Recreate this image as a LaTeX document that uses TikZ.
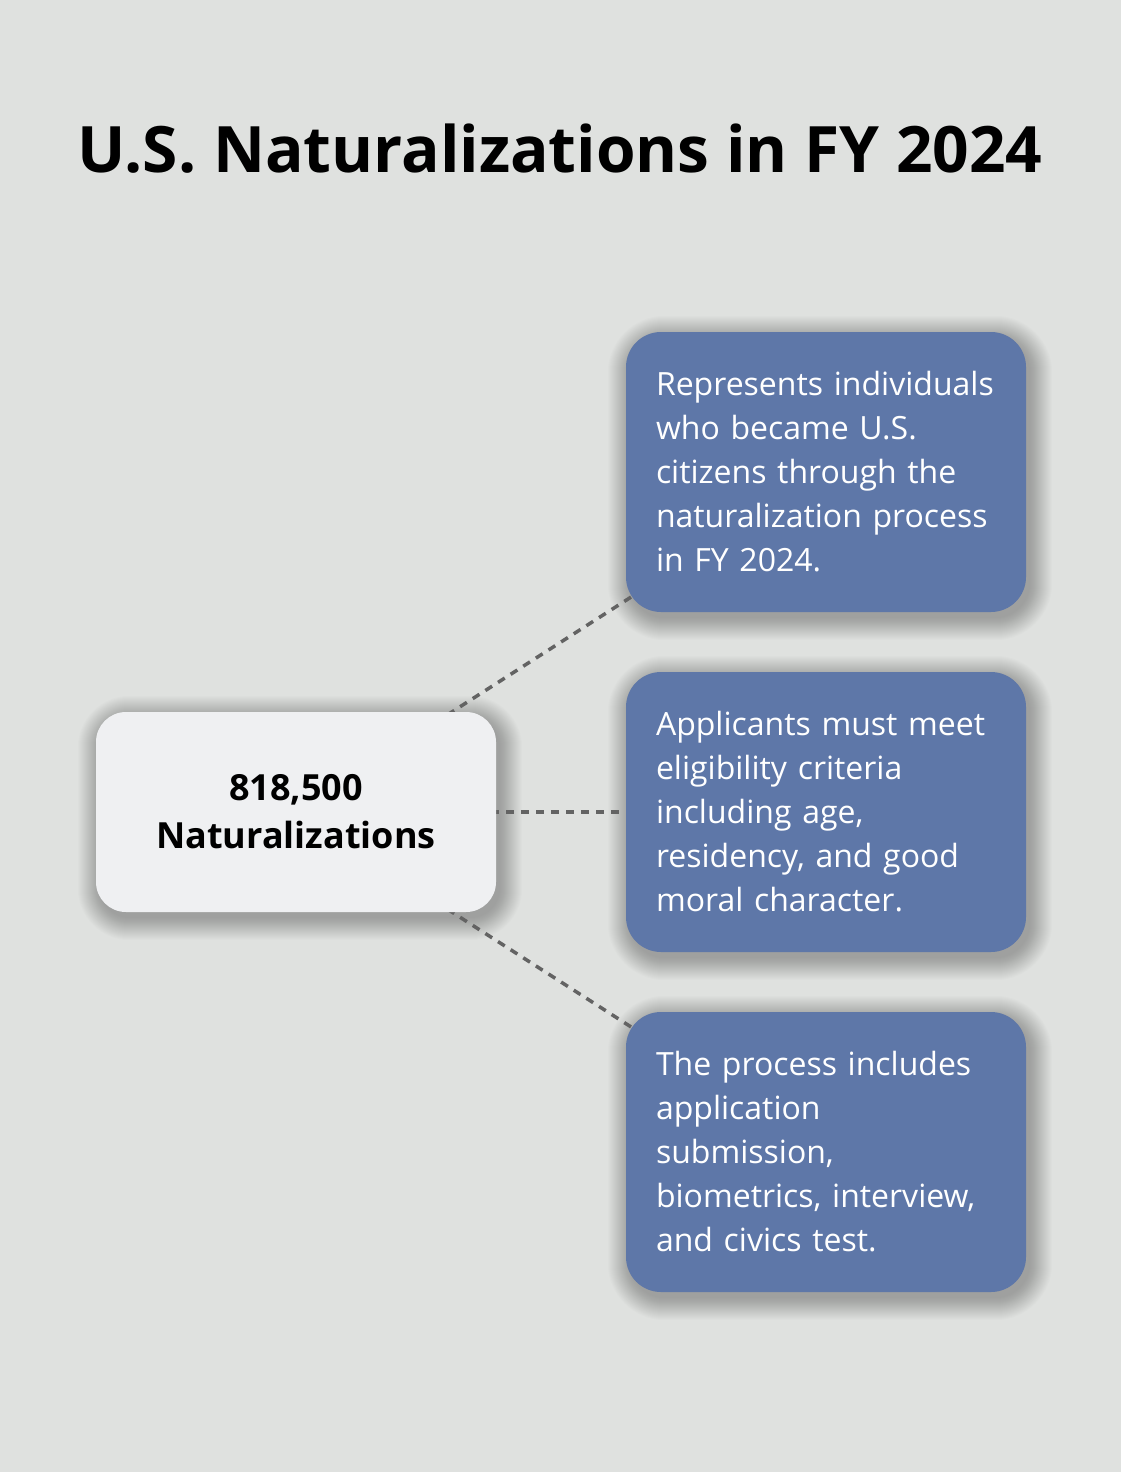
\documentclass[tikz,border=0pt]{standalone}
\usepackage{fontspec}
\setmainfont{Open Sans}
\usetikzlibrary{calc}
\definecolor{bgc}{HTML}{DFE1DF}
\definecolor{bluebox}{HTML}{5E77A8}
\definecolor{lightbox}{HTML}{EFF0F2}
\definecolor{dashc}{HTML}{636363}
\pgfdeclarelayer{bg}
\pgfdeclarelayer{shadowlayer}
\pgfdeclarelayer{lines}
\pgfsetlayers{bg,shadowlayer,lines,main}
\tikzset{
  infobox/.style={rectangle, rounded corners=35pt, fill=bluebox, text=white,
    minimum width=400pt, minimum height=280pt, inner xsep=30pt, inner ysep=0pt,
    text width=340pt, align=left, font=\fontsize{32pt}{44pt}\selectfont},
  centerbox/.style={rectangle, rounded corners=30pt, fill=lightbox, text=black,
    minimum width=400pt, minimum height=200pt, align=center,
    font=\fontsize{36pt}{48pt}\selectfont\bfseries},
  titletext/.style={font=\fontsize{64pt}{80pt}\selectfont\bfseries, text=black, inner sep=0pt},
  connector/.style={dashc, line width=3.5pt, dash pattern=on 8pt off 7pt},
  shadowring/.style={fill=black, opacity=0.01}
}
\newcommand{\softshadow}[2]{%
  \foreach \k in {0,...,22}{%
    \pgfmathsetmacro{\rr}{max(#2+\k,1)}%
    \fill[shadowring, rounded corners=\rr pt]
      ($(#1.south west)+(4-\k,6+\k)$) rectangle ($(#1.north east)+(4+\k,6-\k)$);
  }%
}
\begin{document}
\begin{tikzpicture}[x=1pt,y=-1pt]
\useasboundingbox (0,0) rectangle (1120,1472);
\begin{pgfonlayer}{bg}
  \fill[bgc] (-20,-20) rectangle (1140,1492);
\end{pgfonlayer}

\node[titletext, anchor=base] (title) at (560,172) {U.S. Naturalizations in FY 2024};

\node[centerbox] (c) at (296,812) {818,500\\Naturalizations};

\node[infobox] (r1) at (826,472) {Represents individuals\\who became U.S.\\citizens through the\\naturalization process\\in FY 2024.};
\node[infobox] (r2) at (826,812) {Applicants must meet\\eligibility criteria\\including age,\\residency, and good\\moral character.};
\node[infobox] (r3) at (826,1152) {The process includes\\application\\submission,\\biometrics, interview,\\and civics test.};

\begin{pgfonlayer}{shadowlayer}
  \softshadow{c}{30}
  \softshadow{r1}{35}
  \softshadow{r2}{35}
  \softshadow{r3}{35}
\end{pgfonlayer}

\begin{pgfonlayer}{lines}
  \draw[connector] (c.center) -- (r1.center);
  \draw[connector] (c.center) -- (r2.center);
  \draw[connector] (c.center) -- (r3.center);
\end{pgfonlayer}
\end{tikzpicture}
\end{document}
